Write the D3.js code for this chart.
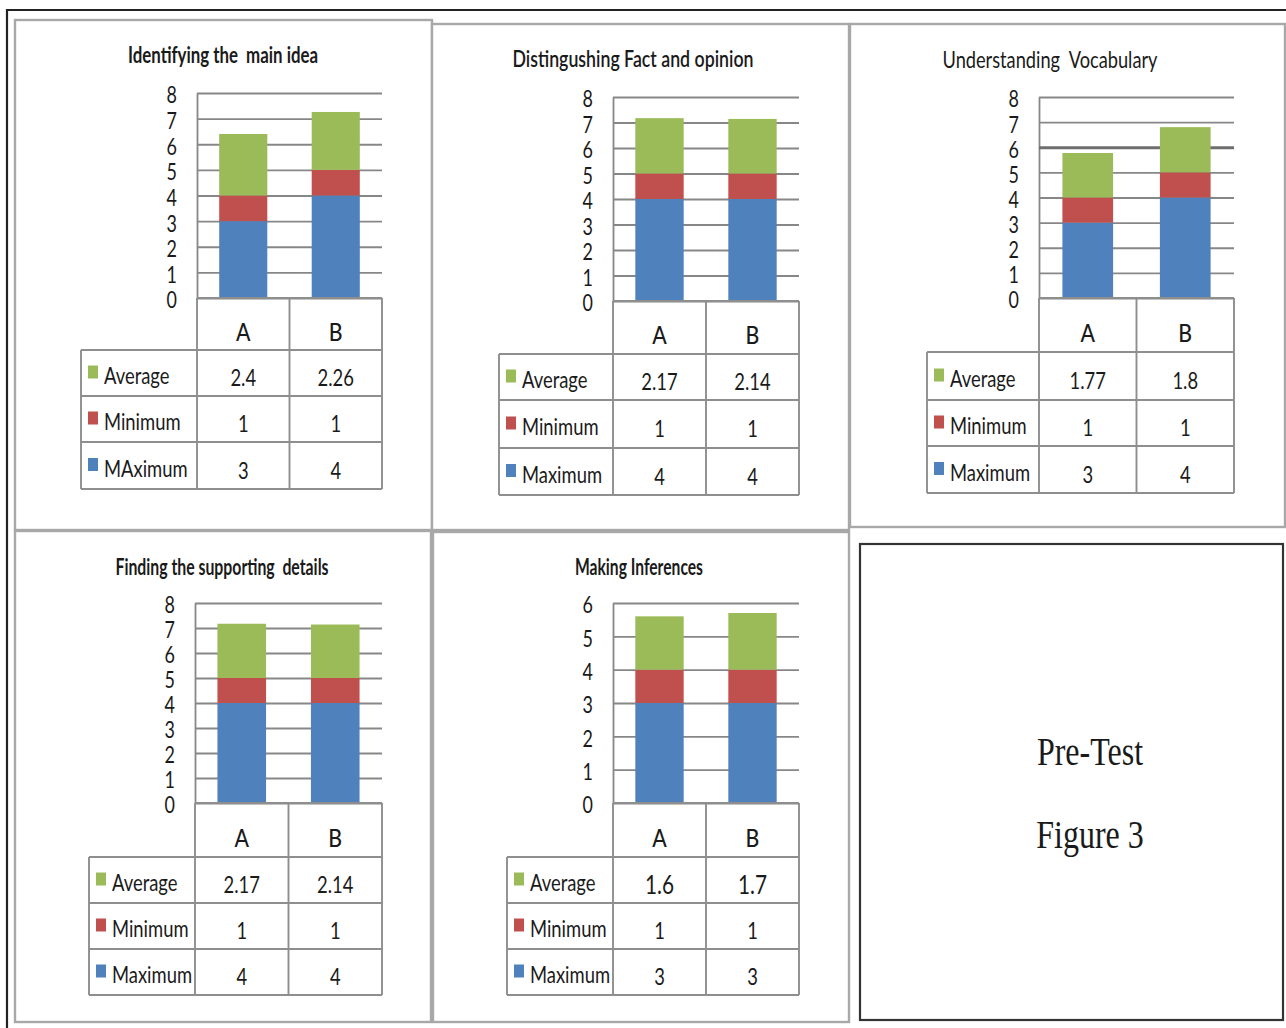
<!DOCTYPE html>
<html>
<head>
<meta charset="utf-8">
<script src="https://cdn.jsdelivr.net/npm/d3@7"></script>
<style>
  body { margin: 0; background: #fff; }
  svg { display: block; }
  text { white-space: pre; }
</style>
</head>
<body>
<svg id="fig" width="1286" height="1028"></svg>
<script>
// ---- data -------------------------------------------------------------
const categories = ["A", "B"];
const panelTitles = [
  "Identifying the  main idea",
  "Distingushing Fact and opinion",
  "Understanding  Vocabulary",
  "Finding the supporting  details",
  "Making Inferences"
];
const axisMaxima = [8, 8, 8, 8, 6];
const maximumScores = [[3, 4], [4, 4], [3, 4], [4, 4], [3, 3]];
const minimumScores = [[1, 1], [1, 1], [1, 1], [1, 1], [1, 1]];
const averageScores = [[2.4, 2.26], [2.17, 2.14], [1.77, 1.8], [2.17, 2.14], [1.6, 1.7]];
const maximumLegendLabels = ["MAximum", "Maximum", "Maximum", "Maximum", "Maximum"];
const captionLines = ["Pre-Test", "Figure 3"];

// ---- styling ----------------------------------------------------------
const seriesColors = { Maximum: "#4F81BD", Minimum: "#C0504D", Average: "#9BBB59" };
const textColor = "#1a1a1a";
const gridColor = "#878787";
const tableColor = "#8e8e8e";
const panelColor = "#a8a8a8";
const bodyFont = "Lato, 'Open Sans', sans-serif";
const bodySize = 23;
const bodySqueeze = 0.8;

// panel geometry: box [x0,y0,x1,y1], plot [left,right,top,zero],
// row bottoms [header, average, minimum, maximum]
const panelLayout = [
  { box: [15, 20, 432, 530], plot: [197, 382, 93, 298], rows: [350, 396, 442, 489], legendLeft: 81,
    title: [223, 63], titleWidth: 190, titleWeight: 700 },
  { box: [432, 24, 849, 530], plot: [613, 799, 97, 301], rows: [354, 400, 448, 495], legendLeft: 499,
    title: [633, 67], titleWidth: 241, titleWeight: 600 },
  { box: [850, 24, 1285, 527], plot: [1039, 1234, 97, 298], rows: [352, 400, 446, 493], legendLeft: 927,
    title: [1050, 68], titleWidth: 215, titleWeight: 400, heavyGrid: 6 },
  { box: [15, 531, 431, 1022], plot: [195, 382, 603, 803], rows: [857, 903, 949, 995], legendLeft: 89,
    title: [222, 575], titleWidth: 213, titleWeight: 700 },
  { box: [433, 532, 849, 1022], plot: [613, 799, 603, 803], rows: [857, 903, 949, 995], legendLeft: 507,
    title: [639, 575], titleWidth: 128, titleWeight: 700, averageSize: 26 }
];

const svg = d3.select("#fig");

// outer frame (top and left edges)
svg.append("path")
  .attr("d", "M7,1028 V10 H1286")
  .attr("fill", "none").attr("stroke", "#222").attr("stroke-width", 2.2);

function squeezedText(g, x, y, str, opts = {}) {
  const sx = opts.squeeze ?? bodySqueeze;
  return g.append("text")
    .attr("transform", `translate(${x},${y}) scale(${sx},1)`)
    .attr("text-anchor", opts.anchor ?? "middle")
    .attr("dominant-baseline", opts.baseline ?? "central")
    .attr("font-family", opts.family ?? bodyFont)
    .attr("font-size", opts.size ?? bodySize)
    .attr("font-weight", opts.weight ?? 400)
    .attr("fill", textColor)
    .text(str);
}

panelLayout.forEach((L, i) => {
  const g = svg.append("g");
  const [bx0, by0, bx1, by1] = L.box;
  const [left, right, top, zero] = L.plot;
  const plotW = right - left;

  // panel frame
  g.append("rect")
    .attr("x", bx0).attr("y", by0)
    .attr("width", bx1 - bx0).attr("height", by1 - by0)
    .attr("fill", "#fff").attr("stroke", panelColor).attr("stroke-width", 2.4);

  // title
  g.append("text")
    .attr("x", L.title[0]).attr("y", L.title[1])
    .attr("text-anchor", "middle")
    .attr("font-family", bodyFont).attr("font-size", 23)
    .attr("font-weight", L.titleWeight)
    .attr("textLength", L.titleWidth).attr("lengthAdjust", "spacingAndGlyphs")
    .attr("fill", textColor)
    .text(panelTitles[i]);

  // scales
  const x = d3.scaleBand().domain(categories).range([left, right]).padding(0);
  const y = d3.scaleLinear().domain([0, axisMaxima[i]]).range([zero, top]);

  // y axis with full-width gridlines
  const axis = d3.axisLeft(y)
    .ticks(axisMaxima[i])
    .tickSize(-plotW)
    .tickSizeOuter(0)
    .tickPadding(20)
    .tickFormat(d3.format("d"));
  const ax = g.append("g").attr("transform", `translate(${left},0)`).call(axis);
  ax.select(".domain").attr("stroke", gridColor).attr("stroke-width", 1.8);
  ax.selectAll(".tick line")
    .attr("stroke", d => (L.heavyGrid === d ? "#6e6e6e" : gridColor))
    .attr("stroke-width", d => (L.heavyGrid === d ? 3.2 : 1.8));
  ax.selectAll(".tick text")
    .attr("x", null).attr("dy", null)
    .attr("transform", `translate(-20,1) scale(0.78,1)`)
    .attr("dominant-baseline", "central")
    .attr("font-family", bodyFont).attr("font-size", 23)
    .attr("fill", textColor);

  // stacked bars
  const rows = categories.map((c, k) => ({
    category: c,
    Maximum: maximumScores[i][k],
    Minimum: minimumScores[i][k],
    Average: averageScores[i][k]
  }));
  const stack = d3.stack().keys(["Maximum", "Minimum", "Average"])(rows);
  const barW = x.bandwidth() * 0.52;
  g.append("g").selectAll("g").data(stack).join("g")
    .attr("fill", s => seriesColors[s.key])
    .selectAll("rect").data(s => s).join("rect")
      .attr("x", d => x(d.data.category) + (x.bandwidth() - barW) / 2)
      .attr("width", barW)
      .attr("y", d => y(d[1]))
      .attr("height", d => y(d[0]) - y(d[1]));

  // data table
  const t = g.append("g").attr("fill", "none").attr("stroke", tableColor).attr("stroke-width", 1.9);
  const [headerBottom, r1, r2, r3] = L.rows;
  t.append("line").attr("x1", left).attr("x2", right).attr("y1", zero).attr("y2", zero);
  [left, x("B"), right].forEach(xx =>
    t.append("line").attr("x1", xx).attr("x2", xx).attr("y1", zero).attr("y2", r3));
  [headerBottom, r1, r2, r3].forEach(yy =>
    t.append("line").attr("x1", L.legendLeft).attr("x2", right).attr("y1", yy).attr("y2", yy));
  t.append("line").attr("x1", L.legendLeft).attr("x2", L.legendLeft).attr("y1", headerBottom).attr("y2", r3);

  categories.forEach(c =>
    squeezedText(g, x(c) + x.bandwidth() / 2, (zero + headerBottom) / 2 + 7, c,
      { size: 25, squeeze: 0.85, weight: 500 }));

  const tableRows = [
    { key: "Average", label: "Average", values: averageScores[i], top: headerBottom, bottom: r1,
      size: L.averageSize ?? bodySize },
    { key: "Minimum", label: "Minimum", values: minimumScores[i], top: r1, bottom: r2, size: bodySize },
    { key: "Maximum", label: maximumLegendLabels[i], values: maximumScores[i], top: r2, bottom: r3, size: bodySize }
  ];
  tableRows.forEach(r => {
    const cy = (r.top + r.bottom) / 2;
    g.append("rect")
      .attr("x", L.legendLeft + 7).attr("y", cy - 7.5)
      .attr("width", 10).attr("height", 13)
      .attr("fill", seriesColors[r.key]);
    squeezedText(g, L.legendLeft + 23, cy + 2, r.label, { anchor: "start" });
    r.values.forEach((v, k) =>
      squeezedText(g, x(categories[k]) + x.bandwidth() / 2, cy + 4, String(v), { size: r.size }));
  });
});

// caption box
const cap = svg.append("g");
cap.append("rect")
  .attr("x", 860).attr("y", 544).attr("width", 423).attr("height", 476)
  .attr("fill", "#fff").attr("stroke", "#333").attr("stroke-width", 2.2);
captionLines.forEach((line, k) =>
  squeezedText(cap, 1090, 765 + k * 83, line, {
    family: "'Liberation Serif', 'Times New Roman', serif", size: 40,
    squeeze: 0.8, baseline: "alphabetic"
  }));
</script>
</body>
</html>
